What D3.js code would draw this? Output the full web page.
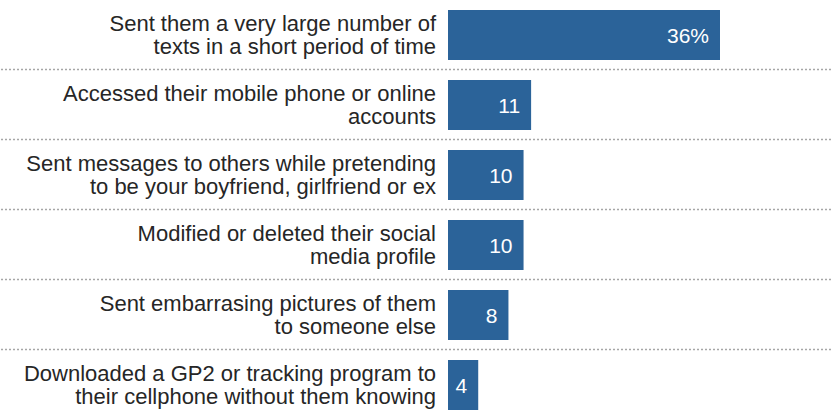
<!DOCTYPE html>
<html>
<head>
<meta charset="utf-8">
<script src="https://d3js.org/d3.v7.min.js"></script>
<style>
  body { margin: 0; background: #fff; }
  svg { display: block; }
  .label { font-family: "Liberation Sans", Arial, sans-serif; font-size: 22px; fill: #262626; }
  .value { font-family: "Liberation Sans", Arial, sans-serif; font-size: 21px; fill: #fff; }
</style>
</head>
<body>
<div id="chart"></div>
<script>
// Data
const categories = [
  ['Sent them a very large number of', 'texts in a short period of time'],
  ['Accessed their mobile phone or online', 'accounts'],
  ['Sent messages to others while pretending', 'to be your boyfriend, girlfriend or ex'],
  ['Modified or deleted their social', 'media profile'],
  ['Sent embarrasing pictures of them', 'to someone else'],
  ['Downloaded a GP2 or tracking program to', 'their cellphone without them knowing']
];
const values = [36, 11, 10, 10, 8, 4];
const valueLabels = ['36%', '11', '10', '10', '8', '4'];

const width = 831, height = 410;
const barLeft = 448, barRight = 720;
const step = 70;

const svg = d3.select('#chart')
  .append('svg')
  .attr('width', width)
  .attr('height', height);

const ids = categories.map((d, i) => i);

const y = d3.scaleBand()
  .domain(ids)
  .range([0, step * ids.length])
  .paddingInner(2 / 7)
  .paddingOuter(1 / 7);

const x = d3.scaleLinear()
  .domain([0, d3.max(values)])
  .range([barLeft, barRight]);

// dotted separators between rows
svg.selectAll('.sep')
  .data(ids.slice(0, -1))
  .enter()
  .append('line')
  .attr('class', 'sep')
  .attr('x1', 1)
  .attr('x2', width)
  .attr('y1', d => y(d) + y.bandwidth() + 10 - 0.5)
  .attr('y2', d => y(d) + y.bandwidth() + 10 - 0.5)
  .attr('stroke', '#a6a6a6')
  .attr('stroke-width', 1.5)
  .attr('stroke-dasharray', '2,2');

// bars
svg.selectAll('.bar')
  .data(values)
  .enter()
  .append('rect')
  .attr('class', 'bar')
  .attr('x', x(0))
  .attr('y', (d, i) => y(i))
  .attr('width', d => x(d) - x(0))
  .attr('height', y.bandwidth())
  .attr('fill', '#2b6399');

// value labels inside bars
svg.selectAll('.value')
  .data(values)
  .enter()
  .append('text')
  .attr('class', 'value')
  .attr('x', d => x(d) - 11)
  .attr('y', (d, i) => y(i) + y.bandwidth() / 2)
  .attr('dy', '0.36em')
  .attr('text-anchor', 'end')
  .text((d, i) => valueLabels[i]);

// category labels, two lines each
const labels = svg.selectAll('.label')
  .data(categories)
  .enter()
  .append('text')
  .attr('class', 'label')
  .attr('text-anchor', 'end')
  .attr('x', barLeft - 12)
  .attr('y', (d, i) => y(i) + y.bandwidth() / 2);

labels.selectAll('tspan')
  .data(d => d)
  .enter()
  .append('tspan')
  .attr('x', barLeft - 12)
  .attr('dy', (d, j) => j === 0 ? '-0.2em' : '1.07em')
  .text(d => d);
</script>
</body>
</html>
